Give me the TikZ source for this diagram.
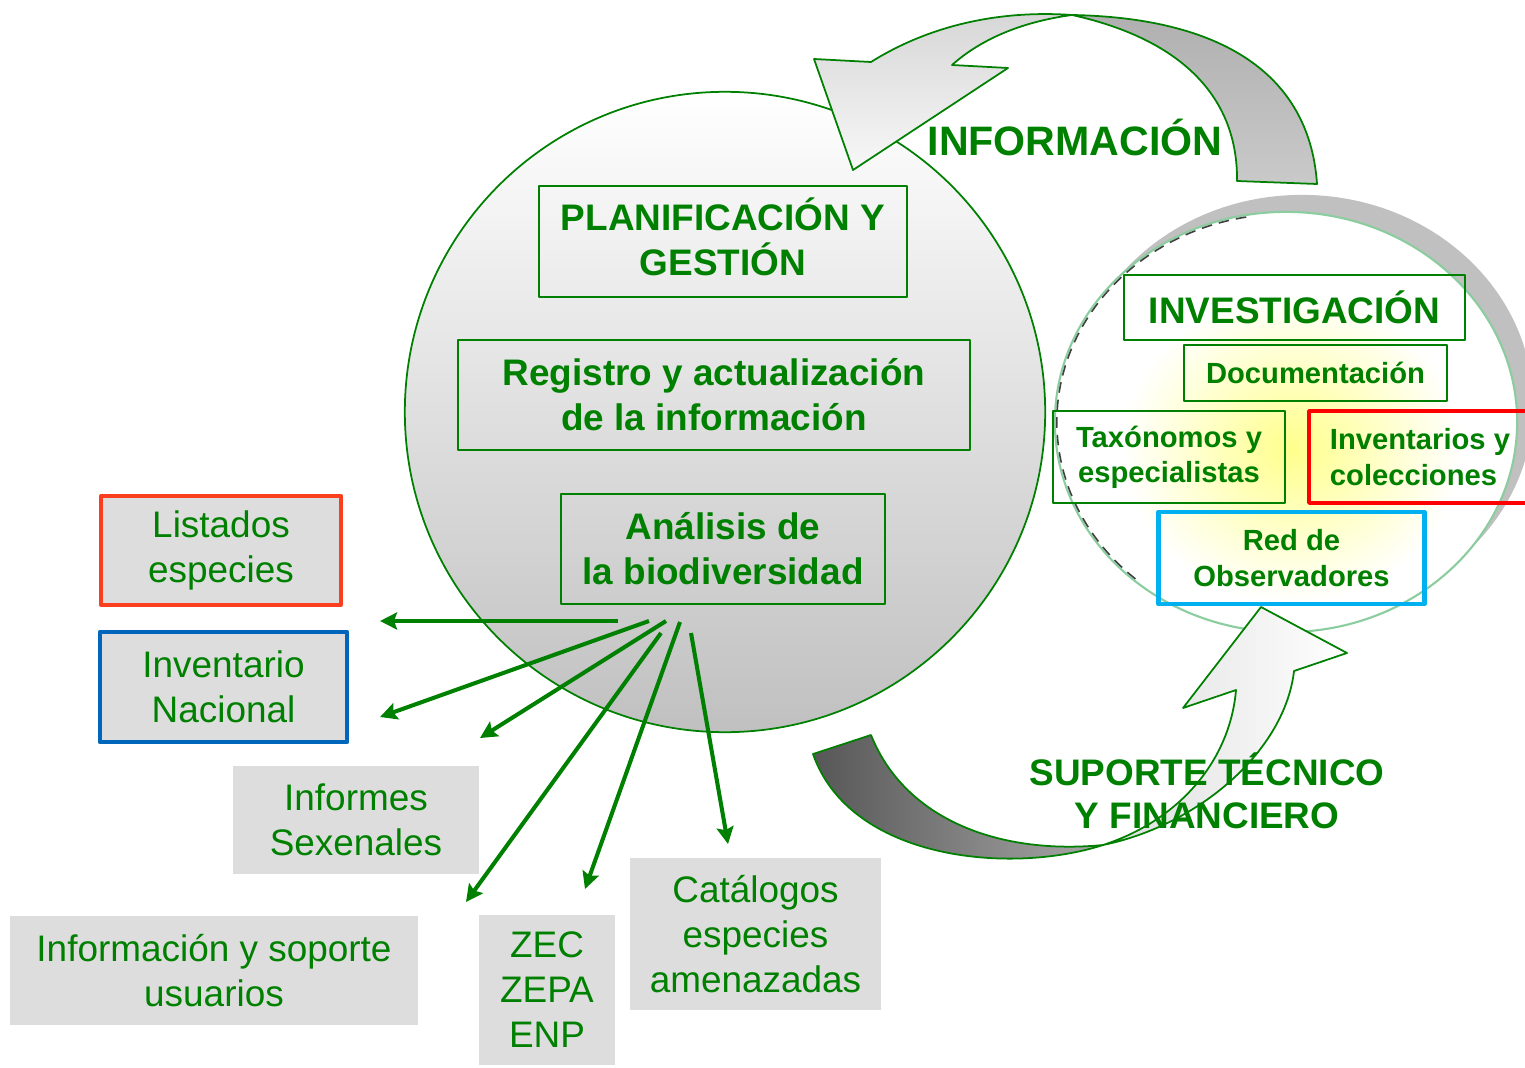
\documentclass[tikz,border=0pt]{standalone}
\usepackage{fontspec}
\setmainfont{Liberation Sans}
\usetikzlibrary{arrows.meta}
\definecolor{verde}{RGB}{0,128,0}
\definecolor{verdeclaro}{RGB}{140,205,160}
\definecolor{grisbox}{RGB}{221,221,221}
\definecolor{grisbajo}{RGB}{192,192,192}
\definecolor{sombra}{RGB}{192,192,192}
\definecolor{amarillo}{RGB}{255,255,140}
\definecolor{rojizo}{RGB}{250,62,30}
\definecolor{azul}{RGB}{0,102,187}
\definecolor{celeste}{RGB}{0,176,240}
\definecolor{rojo}{RGB}{255,0,0}
\begin{document}
\begin{tikzpicture}[x=0.01cm,y=-0.01cm,line join=round,
	>={Stealth[length=1.7mm,width=1.7mm,inset=0.3mm]},
	caja/.style={draw=verde,line width=0.45pt,inner sep=0pt,align=center,text=verde,
		font=\fontsize{10.5}{12.8}\selectfont\bfseries},
	cajita/.style={caja,font=\fontsize{8.3}{10}\selectfont\bfseries},
	salida/.style={fill=grisbox,inner sep=0pt,align=center,text=verde,
		font=\fontsize{10.5}{12.8}\selectfont},
	flecha/.style={verde,line width=1.15pt,->},
	rotulo/.style={text=verde,align=center,font=\fontsize{10.5}{12.2}\selectfont\bfseries}]
	\useasboundingbox (0,0) rectangle (1525,1067);
	\path
	(725,412) coordinate (C)
	(1286,422) coordinate (E)
	(1302,405) coordinate (S)
	(1292,448) coordinate (Y)
	;
	% circulo de investigacion
	\fill[sombra] (S) ellipse [x radius=2.31cm,y radius=2.1cm];
	\fill[white] (E) ellipse [x radius=2.31cm,y radius=2.1cm];
	\shade[inner color=amarillo,outer color=white] (Y) ellipse [x radius=1.7cm,y radius=1.55cm];
	\draw[verdeclaro,line width=0.6pt] (E) ellipse [x radius=2.31cm,y radius=2.1cm];
	\draw[black!75,densely dashed,line width=0.45pt] ([shift={(100:2.29cm and 2.08cm)}]E)
		arc[start angle=100,end angle=230,x radius=2.29cm,y radius=2.08cm];
	% circulo grande
	\shade[top color=white,bottom color=grisbajo] (C) circle (3.2cm);
	\draw[verde,line width=0.5pt] (C) circle (3.2cm);
	% flecha de arriba
	\shade[top color=black!31,bottom color=black!21,draw=verde,line width=0.5pt]
		(1072,15) .. controls (1230,18) and (1310,80) .. (1317,184) -- (1237,181)
		.. controls (1238,100) and (1185,40) .. cycle;
	\shade[top color=black!16,bottom color=black!3,draw=verde,line width=0.5pt]
		(871,62) .. controls (930,25) and (1000,10) .. (1072,15)
		.. controls (1020,22) and (980,40) .. (952,65) -- (1008,68) -- (853,170)
		-- (814,59) -- cycle;
	% flecha de abajo
	\shade[left color=black!66,right color=black!34,draw=verde,line width=0.5pt]
		(813,754) -- (871,735) .. controls (905,820) and (1000,855) .. (1103,845)
		.. controls (1010,875) and (850,860) .. cycle;
	\shade[left color=black!13,right color=white,draw=verde,line width=0.5pt]
		(1103,845) .. controls (1180,820) and (1230,760) .. (1236,690) -- (1183,708)
		-- (1261,607) -- (1347,653) -- (1294,671)
		.. controls (1285,750) and (1200,825) .. cycle;
	% cajas del circulo grande
	\node[caja,minimum width=3.68cm,minimum height=1.11cm,text depth=3pt] (plan) at (723,241.5) {PLANIFICACIÓN Y\\GESTIÓN};
	\node[caja,minimum width=5.12cm,minimum height=1.1cm] (registro) at (714,395) {Registro y actualización\\de la información};
	\node[caja,minimum width=3.24cm,minimum height=1.1cm] (analisis) at (723,549) {Análisis de\\la biodiversidad};
	% cajas de investigacion
	\node[caja,minimum width=3.41cm,minimum height=0.65cm] (investigacion) at (1294.5,307.5) {INVESTIGACIÓN};
	\node[cajita,minimum width=2.63cm,minimum height=0.56cm] (documentacion) at (1315.5,373) {Documentación};
	\node[cajita,minimum width=2.32cm,minimum height=0.92cm] (taxonomos) at (1169,457) {Taxónomos y\\especialistas};
	\node[cajita,draw=rojo,line width=1pt,align=left,minimum width=2.22cm,minimum height=0.92cm] (colecciones) at (1420,457) {Inventarios y\\colecciones};
	\node[cajita,draw=celeste,line width=1.4pt,minimum width=2.65cm,minimum height=0.92cm] (observadores) at (1291.5,558) {Red de\\Observadores};
	% rotulos de las flechas
	\node[rotulo,font=\fontsize{11.7}{13}\selectfont\bfseries] (informacion) at (1075,137) {INFORMACIÓN};
	\node[rotulo] (suporte) at (1207,791) {SUPORTE TÉCNICO\\Y FINANCIERO};
	% productos
	\node[salida,draw=rojizo,line width=0.9pt,minimum width=2.4cm,minimum height=1.09cm] (listados) at (221,550.5) {Listados\\especies};
	\node[salida,draw=azul,line width=1.2pt,minimum width=2.47cm,minimum height=1.1cm] (nacional) at (223.5,687) {Inventario\\Nacional};
	\node[salida,minimum width=2.46cm,minimum height=1.08cm] (sexenales) at (356,820) {Informes\\Sexenales};
	\node[salida,minimum width=4.08cm,minimum height=1.09cm] (usuarios) at (214,970.5) {Información y soporte\\usuarios};
	\node[salida,minimum width=1.36cm,minimum height=1.5cm] (zec) at (547,990) {ZEC\\ZEPA\\ENP};
	\node[salida,minimum width=2.51cm,minimum height=1.52cm] (catalogos) at (755.5,934) {Catálogos\\especies\\amenazadas};
	% salidas del analisis
	\path
	(618,621) coordinate (o1) (380,621) coordinate (d1)
	(649,621) coordinate (o2) (380,717) coordinate (d2)
	(666,621) coordinate (o3) (480,738) coordinate (d3)
	(661,633) coordinate (o4) (466,902) coordinate (d4)
	(680,622) coordinate (o5) (585,889) coordinate (d5)
	(691,633) coordinate (o6) (728,844) coordinate (d6)
	;
	\foreach \i in {1,...,6}
	\draw[flecha] (o\i) -- (d\i);
\end{tikzpicture}
\end{document}
